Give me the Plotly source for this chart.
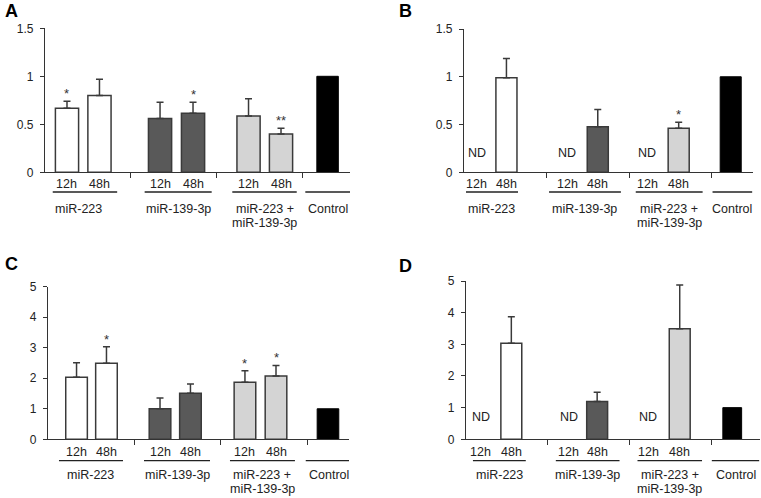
import plotly.graph_objects as go

W, H = 761, 498

# ---------------- data ----------------
group_labels = ["miR-223", "miR-139-3p", "miR-223 +<br>miR-139-3p", "Control"]
time_labels = ["12h", "48h"]

A_vals = [0.667, 0.80, 0.56, 0.615, 0.587, 0.40]
A_err = [0.073, 0.17, 0.17, 0.115, 0.18, 0.06]
A_sig = ["*", "", "", "*", "", "**"]

B_vals = [None, 0.99, None, 0.477, None, 0.46]
B_err = [None, 0.20, None, 0.18, None, 0.065]
B_sig = ["", "", "", "", "", "*"]

C_vals = [2.03, 2.49, 1.0, 1.51, 1.87, 2.07]
C_err = [0.48, 0.54, 0.35, 0.30, 0.38, 0.35]
C_sig = ["", "*", "", "", "*", "*"]

D_vals = [None, 3.03, None, 1.19, None, 3.49]
D_err = [None, 0.84, None, 0.30, None, 1.38]
D_sig = ["", "", "", "", "", ""]

control_val = 1.0

# ---------------- layout config (pixels / axis units) ----------------
fills = ["#ffffff", "#595959", "#d4d4d4"]
edge = "#3a3a3a"
FONT = "Liberation Sans, Arial, sans-serif"
LBL = 12.5

panels = [
    dict(letter="A", vals=A_vals, err=A_err, sig=A_sig, ymax=1.5, dtick=0.5,
         px=(45, 350), py=(172.3, 28.3), xr=3.55,
         slots=[[0.256, 0.634], [1.339, 1.723], [2.369, 2.747]], ctrl=3.289, bw=0.27, cw=0.25,
         under=[[0.09, 0.84], [1.16, 1.94], [2.18, 2.93], [3.03, 3.56]],
         lab_dx=[-0.08, 0, 0, 0],
         t_py=184, u_py=192, g_py=209, letter_xy=(3, 11)),
    dict(letter="B", vals=B_vals, err=B_err, sig=B_sig, ymax=1.5, dtick=0.5,
         px=(464, 753), py=(172.3, 29), xr=3.5,
         slots=[[0.157, 0.514], [1.25, 1.62], [2.22, 2.60]], ctrl=3.23, bw=0.255, cw=0.255,
         under=[[0.024, 0.654], [1.03, 1.90], [2.08, 2.89], [3.01, 3.49]],
         lab_dx=[0, 0, 0, 0],
         t_py=184, u_py=192, g_py=209, nd_py=153, letter_xy=(397, 11)),
    dict(letter="C", vals=C_vals, err=C_err, sig=C_sig, ymax=5, dtick=1,
         px=(48, 349), py=(439.3, 286.7), xr=3.48,
         slots=[[0.33, 0.676], [1.295, 1.647], [2.277, 2.636]], ctrl=3.237, bw=0.25, cw=0.25,
         under=[[0.127, 0.867], [1.11, 1.873], [2.104, 2.855], [2.98, 3.51]],
         lab_dx=[0, 0, 0, 0],
         t_py=452, u_py=460.7, g_py=475, letter_xy=(3, 264)),
    dict(letter="D", vals=D_vals, err=D_err, sig=D_sig, ymax=5, dtick=1,
         px=(466, 760), py=(439.3, 281), xr=3.6,
         slots=[[0.18, 0.555], [1.26, 1.606], [2.234, 2.617]], ctrl=3.26, bw=0.256, cw=0.23,
         under=[[0.085, 0.732], [1.10, 1.88], [2.1, 2.89], [3.01, 3.59]],
         lab_dx=[0, 0, 0, 0],
         t_py=452, u_py=460.7, g_py=475, nd_py=416.7, letter_xy=(397, 266)),
]
LINE_GAP = 14  # px between lines of a two-line group label


def pxp(px):
    return px / W


def pyp(py):
    return 1 - py / H


fig = go.Figure()
annotations = []
shapes = []


def ann(**kw):
    base = dict(showarrow=False, xanchor="center", yanchor="middle")
    base.update(kw)
    annotations.append(base)


for i, p in enumerate(panels):
    n = i + 1
    xa = "x" if n == 1 else f"x{n}"
    ya = "y" if n == 1 else f"y{n}"
    xk = "xaxis" if n == 1 else f"xaxis{n}"
    yk = "yaxis" if n == 1 else f"yaxis{n}"

    for g in range(3):
        xs, ys, es = [], [], []
        for s in range(2):
            v = p["vals"][g * 2 + s]
            if v is None:
                ann(x=p["slots"][g][s], y=pyp(p["nd_py"]), xref=xa, yref="paper", text="ND",
                    font=dict(size=LBL, color="#222", family=FONT))
                continue
            xs.append(p["slots"][g][s])
            ys.append(v)
            es.append(p["err"][g * 2 + s])
            sig = p["sig"][g * 2 + s]
            if sig:
                ann(x=p["slots"][g][s], y=v + p["err"][g * 2 + s], xref=xa, yref=ya,
                    text=sig, yanchor="bottom", yshift=-2,
                    font=dict(size=13, color="#333", family=FONT))
        fig.add_trace(go.Bar(
            x=xs, y=ys, width=p["bw"], xaxis=xa, yaxis=ya,
            marker=dict(color=fills[g], line=dict(color=edge, width=1.5)),
            error_y=dict(type="data", symmetric=False, array=es, arrayminus=[0] * len(es),
                         color=edge, thickness=1.5, width=3.5),
            showlegend=False, hoverinfo="skip"))
        for s in range(2):
            ann(x=p["slots"][g][s], y=pyp(p["t_py"]), xref=xa, yref="paper", text=time_labels[s],
                font=dict(size=LBL, color="#222", family=FONT))
    fig.add_trace(go.Bar(
        x=[p["ctrl"]], y=[control_val], width=p["cw"], xaxis=xa, yaxis=ya,
        marker=dict(color="#000000", line=dict(color="#000000", width=1)),
        showlegend=False, hoverinfo="skip"))

    for k, (u0, u1) in enumerate(p["under"]):
        shapes.append(dict(type="line", xref=xa, yref="paper", x0=u0, x1=u1,
                           y0=pyp(p["u_py"]), y1=pyp(p["u_py"]),
                           line=dict(color="#222", width=1.3)))
        for j, line in enumerate(group_labels[k].split("<br>")):
            ann(x=(u0 + u1) / 2 + p["lab_dx"][k], y=pyp(p["g_py"] + j * LINE_GAP), xref=xa,
                yref="paper", text=line, font=dict(size=LBL, color="#222", family=FONT))

    lx, ly = p["letter_xy"]
    ann(x=pxp(lx), y=pyp(ly), xref="paper", yref="paper", xanchor="left",
        text=f"<b>{p['letter']}</b>", font=dict(size=18, color="#000", family=FONT))

    fig.update_layout({
        xk: dict(domain=[pxp(p["px"][0]), pxp(p["px"][1])], range=[0, p["xr"]], anchor=ya,
                 showgrid=False, zeroline=False, showline=True, linecolor="#333", linewidth=1.3,
                 ticks="outside", tickvals=[1, 2, 3], ticklen=5, tickcolor="#333", tickwidth=1.3,
                 showticklabels=False, fixedrange=True, automargin=False),
        yk: dict(domain=[pyp(p["py"][0]), pyp(p["py"][1])], range=[0, p["ymax"]], anchor=xa,
                 dtick=p["dtick"], tick0=0, showgrid=False, zeroline=False, showline=True,
                 linecolor="#333", linewidth=1.3, ticks="outside", ticklen=4, tickcolor="#333",
                 tickwidth=1.3, tickfont=dict(size=12, color="#222", family=FONT),
                 ticklabelstandoff=4, fixedrange=True, automargin=False),
    })

fig.update_layout(
    width=W, height=H, margin=dict(l=0, r=0, t=0, b=0, pad=0, autoexpand=False),
    paper_bgcolor="white", plot_bgcolor="white",
    barmode="overlay", annotations=annotations, shapes=shapes,
    font=dict(family=FONT, size=12, color="#222"),
)

fig.write_html("out.html", config={"displayModeBar": False},
               post_script="document.body.style.margin='0';document.body.style.overflow='hidden';")
